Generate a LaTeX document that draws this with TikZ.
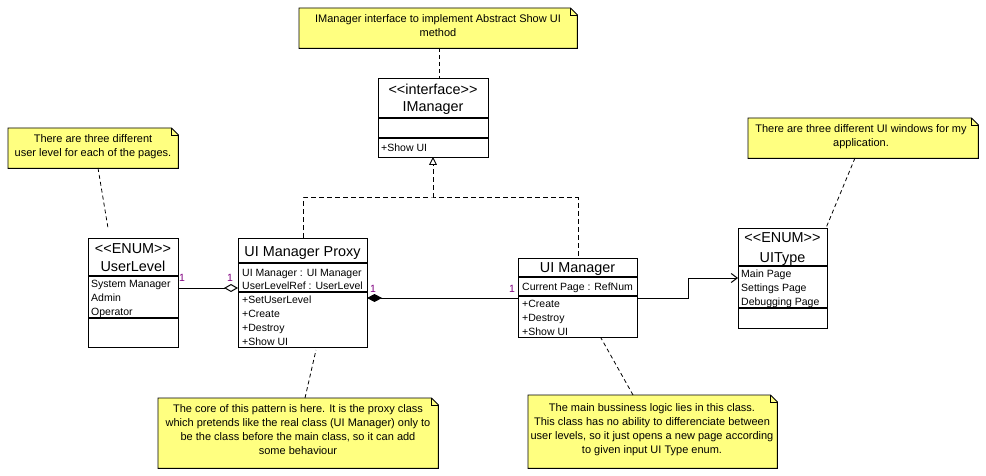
\documentclass[tikz,border=0pt]{standalone}
\usepackage{fontspec}
\setmainfont{Liberation Sans}
\usetikzlibrary{arrows.meta}
\definecolor{notey}{RGB}{255,255,128}
\definecolor{multc}{RGB}{128,0,128}
\newcommand\stL{<\kern0pt<}
\newcommand\stR{>\kern0pt>}
\tikzset{
  cls/.style={draw, line width=1pt, inner sep=0pt, anchor=north west, fill=white},
  sepline/.style={line width=2pt},
  hdr/.style={font=\fontsize{14.4}{16}\selectfont, inner sep=0pt, anchor=base},
  itm/.style={font=\fontsize{10.5}{12}\selectfont, inner sep=0pt, anchor=base west},
  mult/.style={font=\fontsize{10.5}{12}\selectfont, text=multc, inner sep=0pt, anchor=base},
  notebox/.style={inner sep=0pt, anchor=north west},
  notetext/.style={font=\fontsize{11}{14}\selectfont, align=center, inner sep=0pt, anchor=north},
  noteline/.style={line width=0.8pt, dash pattern=on 4pt off 3pt},
  realline/.style={line width=1pt, dash pattern=on 5pt off 3pt},
  conn/.style={line width=1pt},
}
\newcommand\umlbox[5]{%
  \node[cls, minimum width={(#4-#2)*1pt}, minimum height={(#5-#3)*1pt}] (#1) at (#2,#3) {};}
\newcommand\umlsep[3]{\draw[sepline] (#1,#3) -- (#2,#3);}
\newcommand\umlnote[5]{%
  \node[notebox, minimum width={(#4-#2)*1pt}, minimum height={(#5-#3)*1pt}] (#1) at (#2,#3) {};
  \filldraw[fill=notey, line width=0.9pt] (#1.north west) -- ([xshift=-7pt]#1.north east)
     -- ([yshift=-7pt]#1.north east) -- (#1.south east) -- (#1.south west) -- cycle;
  \draw[line width=0.9pt] ([xshift=-7pt]#1.north east) -- ([xshift=-7pt,yshift=-7pt]#1.north east)
     -- ([yshift=-7pt]#1.north east);}
\begin{document}
\begin{tikzpicture}[x=1pt,y=-1pt]
\useasboundingbox[fill=white] (0,0) rectangle (986,476);

% ---------- notes ----------
\umlnote{n1}{299}{8}{577}{48}
\node[notetext] (n1t) at (438,14) {IManager interface to implement Abstract Show UI\\method};
\umlnote{n2}{8}{128}{178}{168}
\node[notetext] (n2t) at (93,134) {There are three different\\user level for each of the pages.};
\umlnote{n3}{748}{118}{978}{158}
\node[notetext] (n3t) at (861,124) {There are three different UI windows for my\\application.};
\umlnote{n4}{158}{398}{438}{468}
\node[notetext] (n4t) at (298,404) {The core of this pattern is here. It is the proxy class\\which pretends like the real class (UI Manager) only to\\be the class before the main class, so it can add\\some behaviour};
\umlnote{n5}{528}{395}{777}{468}
\node[notetext] (n5t) at (652,403) {The main bussiness logic lies in this class.\\This class has no ability to differenciate between\\user levels, so it just opens a new page according\\to given input UI Type enum.};

% ---------- IManager ----------
\umlbox{imgr}{378}{78}{488}{157}
\umlsep{378}{488}{118}
\umlsep{378}{488}{138}
\node[hdr] (imgrS) at (433,95) {\stL interface\stR};
\node[hdr] (imgrN) at (433,112) {IManager};
\node[itm] (imgrM) at (381,152) {+Show UI};

% ---------- UserLevel ----------
\umlbox{ulev}{88}{238}{178}{347}
\umlsep{88}{178}{276}
\umlsep{88}{178}{318}
\node[hdr] (ulevS) at (133,253) {\stL ENUM\stR};
\node[hdr] (ulevN) at (133,271) {UserLevel};
\node[itm] (ulev1) at (91,287) {System Manager};
\node[itm] (ulev2) at (91,301) {Admin};
\node[itm] (ulev3) at (91,315) {Operator};

% ---------- UI Manager Proxy ----------
\umlbox{prox}{238}{238}{367}{347}
\umlsep{238}{367}{263}
\umlsep{238}{367}{292}
\node[hdr] (proxN) at (302.5,256) {UI Manager Proxy};
\node[itm] (proxA1) at (242,276) {UI Manager : UI Manager};
\node[itm] (proxA2) at (242,289) {UserLevelRef : UserLevel};
\node[itm] (proxM1) at (242,303) {+SetUserLevel};
\node[itm] (proxM2) at (242,317) {+Create};
\node[itm] (proxM3) at (242,331) {+Destroy};
\node[itm] (proxM4) at (242,345) {+Show UI};

% ---------- UI Manager ----------
\umlbox{mgr}{518}{258}{637}{337}
\umlsep{518}{637}{277}
\umlsep{518}{637}{296}
\node[hdr] (mgrN) at (577.5,272) {UI Manager};
\node[itm] (mgrA1) at (522,290) {Current Page : RefNum};
\node[itm] (mgrM1) at (522,307) {+Create};
\node[itm] (mgrM2) at (522,321) {+Destroy};
\node[itm] (mgrM3) at (522,335) {+Show UI};

% ---------- UIType ----------
\umlbox{uit}{738}{228}{827}{328}
\umlsep{738}{827}{266}
\umlsep{738}{827}{308}
\node[hdr] (uitS) at (782.5,243) {\stL ENUM\stR};
\node[hdr] (uitN) at (782.5,262) {UIType};
\node[itm] (uit1) at (741,277) {Main Page};
\node[itm] (uit2) at (741,291) {Settings Page};
\node[itm] (uit3) at (741,305) {Debugging Page};

% ---------- note anchors ----------
\coordinate (a1s) at (439,48);  \coordinate (a1e) at (439,78);
\coordinate (a2s) at (98,168);  \coordinate (a2e) at (108,228);
\coordinate (a3s) at (855,158); \coordinate (a3e) at (826,228);
\coordinate (a4s) at (305,398); \coordinate (a4e) at (316,350);
\coordinate (a5s) at (633,395); \coordinate (a5e) at (601,338);
\draw[noteline] (a1s) -- (a1e);
\draw[noteline] (a2s) -- (a2e);
\draw[noteline] (a3s) -- (a3e);
\draw[noteline] (a4s) -- (a4e);
\draw[noteline] (a5s) -- (a5e);

% ---------- realization ----------
\coordinate (pTop) at (303,238);
\coordinate (mTop) at (578,258);
\coordinate (iBot) at (433,157);
\coordinate (junc) at (433,198);
\draw[realline] (pTop) |- (junc) -| (mTop);
\draw[realline, -{Triangle[open,length=8pt,width=8pt,line width=0.9pt]}] (junc) -- (iBot);

% ---------- aggregation ----------
\coordinate (agS) at (178,288);
\coordinate (agE) at (238,288);
\draw[conn, -{Diamond[open,length=14pt,width=8pt]}] (agS) -- (agE);
\node[mult] (m1) at (182,281) {1};
\node[mult] (m2) at (230,281) {1};

% ---------- composition ----------
\coordinate (cpS) at (367,298);
\coordinate (cpE) at (518,298);
\draw[conn, {Diamond[length=15pt,width=8pt]}-] (cpS) -- (cpE);
\node[mult] (m3) at (373,292) {1};
\node[mult] (m4) at (512,292) {1};

% ---------- association ----------
\coordinate (asS) at (637,298);
\coordinate (asB) at (688,278);
\coordinate (asE) at (738,278);
\draw[conn, -{Straight Barb[length=6pt,width=9pt]}] (asS) -| (asB) -- (asE);
\end{tikzpicture}
\end{document}
